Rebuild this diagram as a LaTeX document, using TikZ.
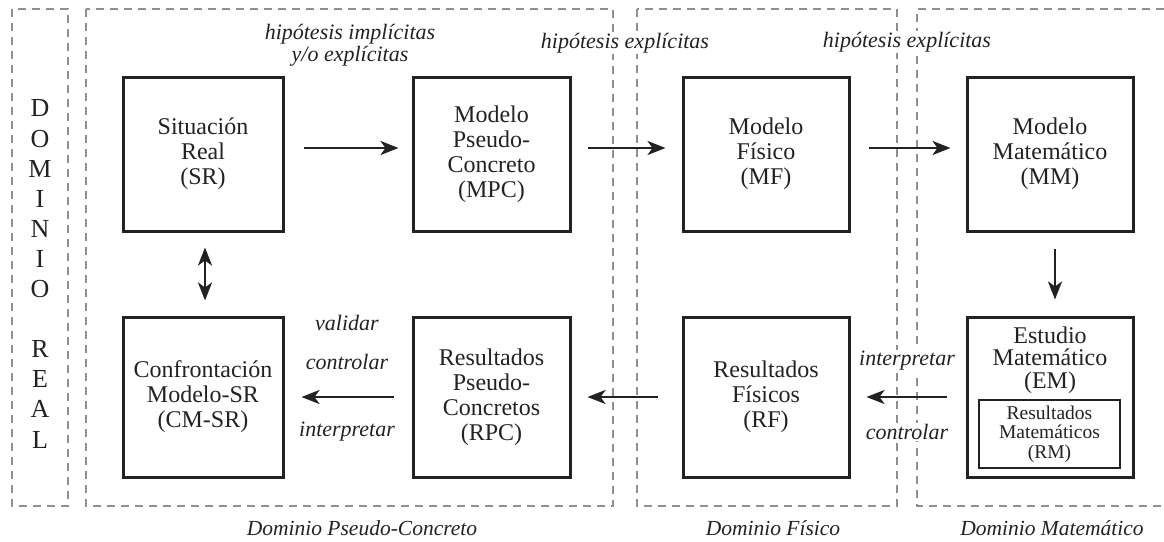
\documentclass[tikz,border=0pt]{standalone}
\usepackage{fontspec}
\setmainfont{Liberation Serif}
\usetikzlibrary{arrows.meta}
\definecolor{ink}{HTML}{222222}
\definecolor{dashgray}{HTML}{8F8F8F}
\begin{document}
\begin{tikzpicture}[x=1pt,y=-1pt,
  dombox/.style={draw=dashgray,line width=2.6pt,dash pattern=on 8pt off 6pt},
  bigbox/.style={draw=ink,line width=3pt,align=center,text=ink,
    font=\fontsize{24}{25}\selectfont,inner sep=0pt},
  smallbox/.style={draw=ink,line width=1.6pt,align=center,text=ink,
    font=\fontsize{19.5}{19.5}\selectfont,inner sep=0pt},
  lbl/.style={text=ink,align=center,font=\fontsize{22}{22}\selectfont\itshape,inner sep=0pt},
  wlbl/.style={lbl,fill=white,inner sep=1.5pt},
  dlbl/.style={text=ink,font=\fontsize{21.5}{22}\selectfont\itshape,inner sep=0pt},
  tip/.tip={Stealth[length=18pt,width=14pt,inset=5pt]},
  arr/.style={draw=ink,line width=2.6pt,-tip},
  darr/.style={draw=ink,line width=2.6pt,tip-tip}
]
\useasboundingbox (0,0) rectangle (1164,541);
% domains
\draw[dombox] (12,9) rectangle (68,506);
\draw[dombox] (86,9) rectangle (613,506);
\draw[dombox] (637,9) rectangle (897,506);
\draw[dombox] (1164,9) -- (917,9) -- (917,506) -- (1164,506);
\node[text=ink,align=center,font=\fontsize{26}{30.1}\selectfont,inner sep=0pt] (dreal) at (40,274)
  {D\\O\\M\\I\\N\\I\\O\\\mbox{}\\R\\E\\A\\L};
% boxes
\node[bigbox,minimum width=160pt,minimum height=154pt] (SR) at (203,154) {Situación\\Real\\(SR)};
\node[bigbox,minimum width=157pt,minimum height=154pt] (MPC) at (491.5,154) {Modelo\\Pseudo-\\Concreto\\(MPC)};
\node[bigbox,minimum width=166pt,minimum height=154pt] (MF) at (766,154) {Modelo\\Físico\\(MF)};
\node[bigbox,minimum width=166pt,minimum height=154pt] (MM) at (1050,154) {Modelo\\Matemático\\(MM)};
\node[bigbox,minimum width=160pt,minimum height=160pt] (CM) at (203,397) {Confrontación\\Modelo-SR\\(CM-SR)};
\node[bigbox,minimum width=157pt,minimum height=160pt] (RPC) at (491.5,397) {Resultados\\Pseudo-\\Concretos\\(RPC)};
\node[bigbox,minimum width=166pt,minimum height=160pt] (RF) at (766,397) {Resultados\\Físicos\\(RF)};
\node[bigbox,minimum width=166pt,minimum height=160pt] (EM) at (1050,397) {};
\node[text=ink,align=center,font=\fontsize{24}{22.5}\selectfont,inner sep=0pt] (EMt) at (1050,360) {Estudio\\Matemático\\(EM)};
\node[smallbox,minimum width=141pt,minimum height=68pt] (RM) at (1049.5,434) {Resultados\\Matemáticos\\(RM)};
% top arrows
\draw[arr,shorten <=19pt,shorten >=13pt] ([yshift=6pt]SR.east) -- ([yshift=6pt]MPC.west);
\draw[arr,shorten <=16pt,shorten >=16pt] ([yshift=6pt]MPC.east) -- ([yshift=6pt]MF.west);
\draw[arr,shorten <=18pt,shorten >=15pt] ([yshift=6pt]MF.east) -- ([yshift=6pt]MM.west);
% vertical arrows
\draw[darr,shorten <=15pt,shorten >=15pt] ([xshift=2pt]SR.south) -- ([xshift=2pt]CM.north);
\draw[arr,shorten <=16pt,shorten >=16pt] ([xshift=5pt]MM.south) -- ([xshift=5pt]EM.north);
% bottom arrows
\draw[arr,shorten <=18pt,shorten >=17pt] (RPC.west) -- (CM.east);
\draw[arr,shorten <=24pt,shorten >=16pt] (RF.west) -- (RPC.east);
\draw[arr,shorten <=19pt,shorten >=16pt] (EM.west) -- (RF.east);
% labels
\node[lbl] (h1) at (350,45) {hipótesis implícitas\\y/o explícitas};
\node[wlbl] (h2) at (625,43) {hipótesis explícitas};
\node[wlbl] (h3) at (907,42) {hipótesis explícitas};
\node[lbl] (v1) at (347,323) {validar};
\node[lbl] (c1) at (347,362) {controlar};
\node[lbl] (i1) at (347,432) {interpretar};
\node[wlbl] (i2) at (907,361) {interpretar};
\node[wlbl] (c2) at (907,432) {controlar};
\node[dlbl] (d1) at (362,528) {Dominio Pseudo-Concreto};
\node[dlbl] (d2) at (773,528) {Dominio Físico};
\node[dlbl] (d3) at (1052,528) {Dominio Matemático};
\end{tikzpicture}
\end{document}
